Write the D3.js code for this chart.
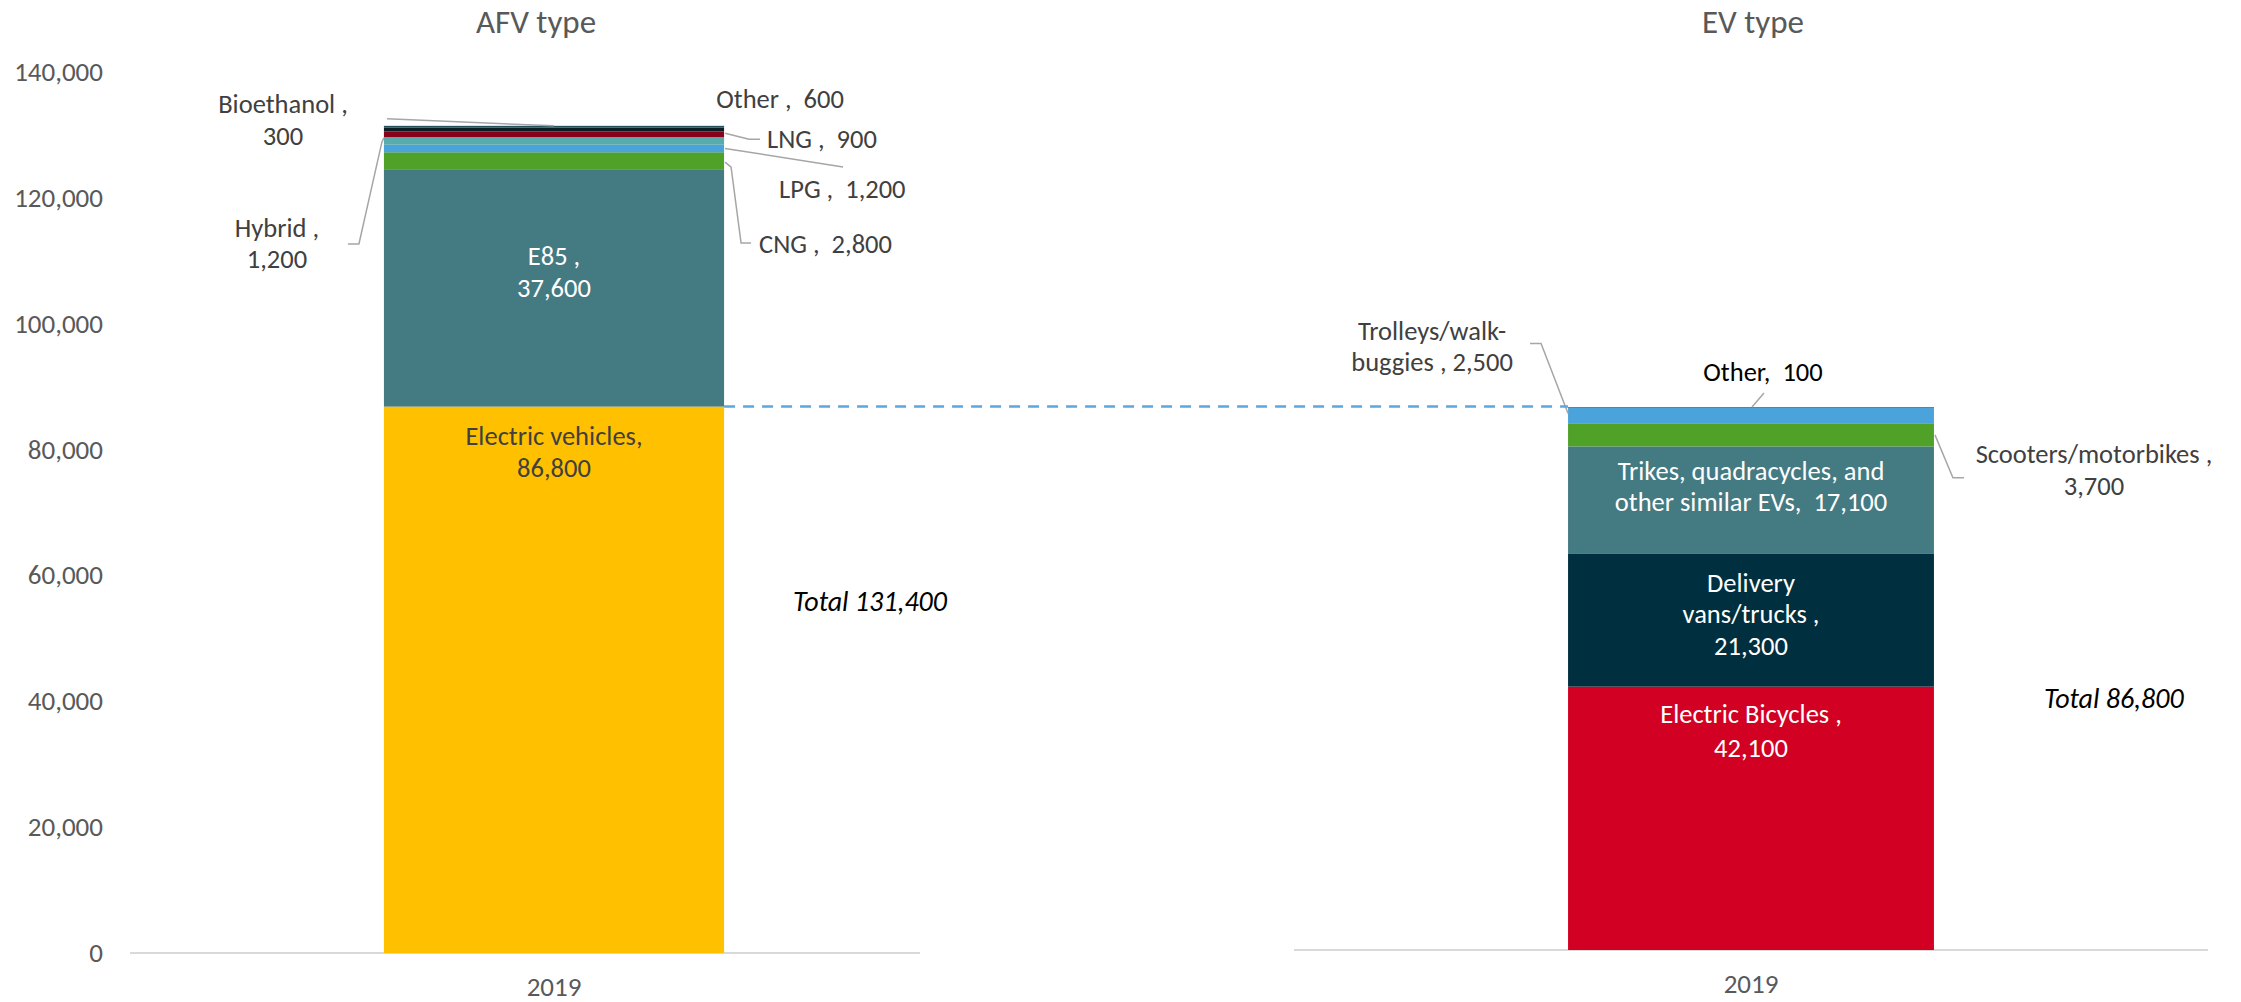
<!DOCTYPE html>
<html>
<head>
<meta charset="utf-8">
<script src="https://cdn.jsdelivr.net/npm/d3@7"></script>
<style>
  html, body { margin: 0; padding: 0; background: #ffffff; }
  svg { display: block; font-family: Carlito, Calibri, Lato, "Open Sans", sans-serif; }
  svg text { white-space: pre; }
</style>
</head>
<body>
<svg id="chart" width="2241" height="1002"></svg>
<script>
// ---------------- DATA ----------------
const panelTitles = ["AFV type", "EV type"];
const yearLabels = ["2019"];
const yTicks = [0, 20000, 40000, 60000, 80000, 100000, 120000, 140000];

const afvCategories = ["Electric vehicles", "E85", "CNG", "LPG", "Hybrid", "LNG", "Other", "Bioethanol"];
const afvValues = [86800, 37600, 2800, 1200, 1200, 900, 600, 300];
const afvTotalLabel = "Total 131,400";

const evCategories = ["Electric Bicycles", "Delivery vans/trucks", "Trikes, quadracycles, and other similar EVs", "Scooters/motorbikes", "Trolleys/walk-buggies", "Other"];
const evValues = [42100, 21300, 17100, 3700, 2500, 100];
const evTotalLabel = "Total 86,800";

// ---------------- STYLES ----------------
const afvColors = ["#FFC000", "#447A82", "#50A127", "#4AA3DA", "#58ACAC", "#880019", "#0B1E24", "#24505B"];
const evColors = ["#D20022", "#002F3F", "#447A82", "#50A127", "#4AA3DA", "#24505B"];

// label layouts (pixel offsets relative to scale-derived anchors)
const afvLabelLayout = [
  { lines: ["Electric vehicles,", "86,800"], mode: "in", ref: "top", dys: [38.5, 70.5], fill: "#404040" },
  { lines: ["E85 ,", "37,600"], mode: "in", ref: "mid", dys: [-23, 9], fill: "#ffffff" },
  { lines: ["CNG ,  2,800"], mode: "out", side: "R", ay: "mid", dx: 35, dys: [92], anchor: "start",
    leader: [[1, 1], [7, 6], [17, 82], [27, 82]] },
  { lines: ["LPG ,  1,200"], mode: "out", side: "R", ay: "mid", dx: 55, dys: [49.5], anchor: "start",
    leader: [[1, 0], [119, 18.5]] },
  { lines: ["Hybrid ,", "1,200"], mode: "out", side: "L", ay: "mid", dx: -107, dys: [96, 127], anchor: "middle",
    leader: [[0, -3], [-2, 1], [-25, 103], [-36, 103]] },
  { lines: ["LNG ,  900"], mode: "out", side: "R", ay: "mid", dx: 43, dys: [13.6], anchor: "start",
    leader: [[1, -1], [25, 5], [36, 5]] },
  { lines: ["Other ,  600"], mode: "out", side: "R", ay: "top", dx: 56, dys: [-19.7], anchor: "middle", leader: null },
  { lines: ["Bioethanol ,", "300"], mode: "out", side: "C", ay: "top", dx: -271, dys: [-12.8, 19.2], anchor: "middle",
    leader: [[0, 0], [-167, -7]] }
];
const evLabelLayout = [
  { lines: ["Electric Bicycles ,", "42,100"], mode: "in", ref: "top", dys: [36.5, 70], fill: "#ffffff" },
  { lines: ["Delivery", "vans/trucks ,", "21,300"], mode: "in", ref: "mid", dys: [-28, 3, 35], fill: "#ffffff" },
  { lines: ["Trikes, quadracycles, and", "other similar EVs,  17,100"], mode: "in", ref: "mid", dys: [-20, 11], fill: "#ffffff" },
  { lines: ["Scooters/motorbikes ,", "3,700"], mode: "out", side: "R", ay: "mid", dx: 160, dys: [28, 60], anchor: "middle",
    leader: [[1, 0], [19, 43], [30, 43]] },
  { lines: ["Trolleys/walk-", "buggies , 2,500"], mode: "out", side: "L", ay: "mid", dx: -136, dys: [-75, -44], anchor: "middle",
    leader: [[0, -2], [-27, -72], [-38, -72]] },
  { lines: ["Other,  100"], mode: "out", side: "C", ay: "top", dx: 12, dys: [-26], anchor: "middle", fill: "#000000",
    leader: [[1, 0], [13, -14]] }
];

const FONT = 26.5;
const TICK_FONT = 27;
const TOTAL_FONT = 28;
const TITLE_FONT = 33;
const svg = d3.select("#chart");

// ---------------- SCALES ----------------
const yL = d3.scaleLinear().domain([0, 140000]).range([953, 71.7]);
const yR = d3.scaleLinear().domain([0, 140000]).range([950, 74.2]);
const xL = d3.scaleBand().domain(yearLabels).range([188, 920]).paddingInner(0).paddingOuter(0.576);
const xR = d3.scaleBand().domain(yearLabels).range([1294, 2208]).paddingInner(0).paddingOuter(0.749);

function stackOf(cats, vals) {
  const row = { year: yearLabels[0] };
  cats.forEach((c, i) => row[c] = vals[i]);
  return d3.stack().keys(cats)([row]);
}

function drawPanel(cfg) {
  const { x, y, cats, vals, colors, layout, axisX0, axisX1, title, titleX } = cfg;
  const g = svg.append("g");

  g.append("line")
    .attr("x1", axisX0).attr("x2", axisX1)
    .attr("y1", y(0)).attr("y2", y(0))
    .attr("stroke", "#d9d9d9").attr("stroke-width", 2);

  const series = stackOf(cats, vals);
  const bx = x(yearLabels[0]);
  const bw = x.bandwidth();

  g.selectAll("rect.seg").data(series).join("rect")
    .attr("class", "seg")
    .attr("x", bx)
    .attr("width", bw)
    .attr("y", s => y(s[0][1]))
    .attr("height", s => y(s[0][0]) - y(s[0][1]))
    .attr("fill", (s, i) => colors[i]);

  const xa = d3.axisBottom(x).tickSize(0).tickPadding(24);
  const xg = g.append("g").attr("transform", `translate(0,${y(0)})`).call(xa);
  xg.select(".domain").remove();
  xg.selectAll("text").attr("font-size", TICK_FONT).attr("fill", "#595959")
    .attr("font-family", "Carlito, Calibri, Lato, sans-serif");

  g.append("text").attr("x", titleX).attr("y", 33)
    .attr("text-anchor", "middle").attr("font-size", TITLE_FONT).attr("fill", "#595959")
    .text(title);

  series.forEach((s, i) => {
    const L = layout[i];
    const top = y(s[0][1]), bot = y(s[0][0]), mid = (top + bot) / 2;
    if (L.mode === "in") {
      const ay = L.ref === "top" ? top : mid;
      const t = g.append("text").attr("text-anchor", "middle").attr("font-size", FONT).attr("fill", L.fill);
      L.lines.forEach((ln, k) => t.append("tspan").attr("x", bx + bw / 2).attr("y", ay + L.dys[k]).text(ln));
    } else {
      const ax = L.side === "L" ? bx : L.side === "R" ? bx + bw : bx + bw / 2;
      const ay = L.ay === "top" ? top : mid;
      if (L.leader) {
        g.append("path")
          .attr("d", d3.line()(L.leader.map(p => [ax + p[0], ay + p[1]])))
          .attr("fill", "none").attr("stroke", "#a6a6a6").attr("stroke-width", 1.5);
      }
      const t = g.append("text").attr("text-anchor", L.anchor).attr("font-size", FONT).attr("fill", L.fill || "#404040");
      L.lines.forEach((ln, k) => t.append("tspan").attr("x", ax + L.dx).attr("y", ay + L.dys[k]).text(ln));
    }
  });
  return { bx, bw };
}

const left = drawPanel({ x: xL, y: yL, cats: afvCategories, vals: afvValues, colors: afvColors,
  layout: afvLabelLayout, axisX0: 130, axisX1: 920, title: panelTitles[0], titleX: 536 });
const right = drawPanel({ x: xR, y: yR, cats: evCategories, vals: evValues, colors: evColors,
  layout: evLabelLayout, axisX0: 1294, axisX1: 2208, title: panelTitles[1], titleX: 1753 });

const ya = d3.axisLeft(yL).tickValues(yTicks).tickSize(0).tickPadding(0).tickFormat(d3.format(","));
const yg = svg.append("g").attr("transform", "translate(103,0)").call(ya);
yg.select(".domain").remove();
yg.selectAll("text").attr("font-size", TICK_FONT).attr("fill", "#595959")
  .attr("font-family", "Carlito, Calibri, Lato, sans-serif");

const evTotal = d3.sum(afvValues.slice(0, 1));
svg.append("line")
  .attr("x1", left.bx + left.bw).attr("x2", right.bx)
  .attr("y1", yL(evTotal)).attr("y2", yL(evTotal))
  .attr("stroke", "#5BA7DE").attr("stroke-width", 2.5).attr("stroke-dasharray", "11,8");

svg.append("text").attr("x", left.bx + left.bw + 69).attr("y", yL(0) - 342)
  .attr("font-size", TOTAL_FONT).attr("font-style", "italic").attr("fill", "#000").text(afvTotalLabel);
svg.append("text").attr("x", right.bx + right.bw + 110).attr("y", yR(0) - 242)
  .attr("font-size", TOTAL_FONT).attr("font-style", "italic").attr("fill", "#000").text(evTotalLabel);
</script>
</body>
</html>
